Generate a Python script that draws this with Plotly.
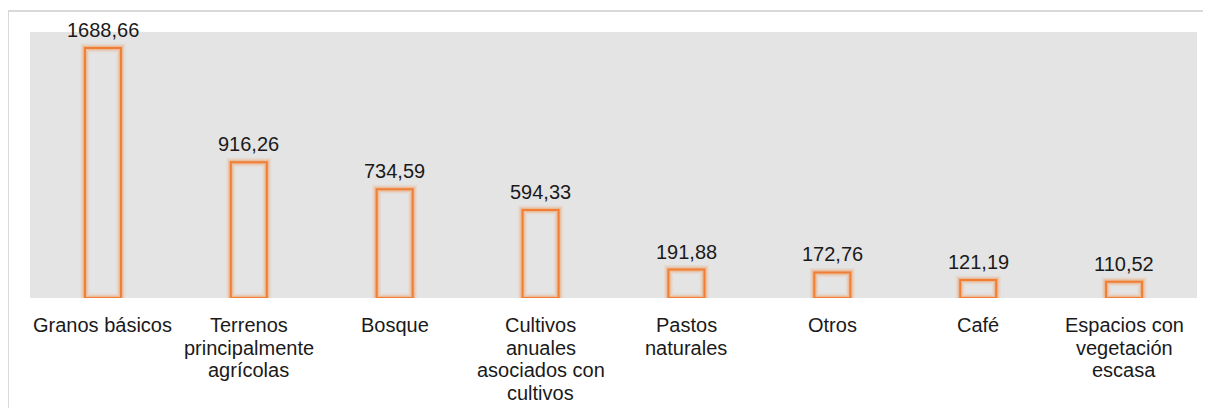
import plotly.graph_objects as go

categories = ["Granos básicos", "Terrenos principalmente agrícolas", "Bosque",
              "Cultivos anuales asociados con cultivos", "Pastos naturales",
              "Otros", "Café", "Espacios con vegetación escasa"]
category_lines = [["Granos básicos"], ["Terrenos", "principalmente", "agrícolas"], ["Bosque"],
                  ["Cultivos", "anuales", "asociados con", "cultivos"], ["Pastos", "naturales"],
                  ["Otros"], ["Café"], ["Espacios con", "vegetación", "escasa"]]
values = [1688.66, 916.26, 734.59, 594.33, 191.88, 172.76, 121.19, 110.52]
labels = [f"{v:.2f}".replace(".", ",") for v in values]

ORANGE = "#F07F35"
FONT = "Liberation Sans, Arial, sans-serif"
TXT = "#1a1a1a"

W, H = 1203, 400
ML, MT, MR, MB = 22, 24, 14, 110
PW, PH = W - ML - MR, H - MT - MB

fig = go.Figure()
for w, a in [(9, 0.10), (6, 0.18), (4, 0.25)]:
    fig.add_trace(go.Bar(x=categories, y=values, width=0.247,
                         marker=dict(color="rgba(0,0,0,0)",
                                     line=dict(color=f"rgba(245,140,60,{a})", width=w)),
                         hoverinfo="skip", showlegend=False))
fig.add_trace(go.Bar(x=categories, y=values, width=0.247,
                     marker=dict(color="rgba(0,0,0,0)", line=dict(color=ORANGE, width=2)),
                     showlegend=False))

for cat, v, lab in zip(categories, values, labels):
    fig.add_annotation(x=cat, y=v, xref="x", yref="y", text=lab, showarrow=False,
                       yanchor="bottom", yshift=5,
                       font=dict(family=FONT, size=20, color=TXT))

for cat, lines in zip(categories, category_lines):
    for i, ln in enumerate(lines):
        fig.add_annotation(x=cat, y=0, xref="x", yref="paper", text=ln, showarrow=False,
                           yanchor="top", yshift=-(14 + i * 22.7),
                           font=dict(family=FONT, size=20, color=TXT))

fig.update_layout(
    width=W, height=H,
    barmode="overlay",
    paper_bgcolor="white", plot_bgcolor="#E4E4E4",
    margin=dict(l=ML, r=MR, t=MT, b=MB),
    font=dict(family=FONT, size=20, color=TXT),
    xaxis=dict(showline=False, showgrid=False, ticks="", showticklabels=False),
    yaxis=dict(visible=False, range=[0, 1797], showgrid=False),
    shapes=[dict(type="rect", xref="paper", yref="paper",
                 x0=(0 - ML) / PW, x1=(W + 4 - ML) / PW,
                 y0=(MT + PH - (H + 6)) / PH, y1=(MT + PH - 3) / PH,
                 line=dict(color="#D9D9D9", width=2), fillcolor="rgba(0,0,0,0)", layer="below")],
)
fig.write_html("out.html")
